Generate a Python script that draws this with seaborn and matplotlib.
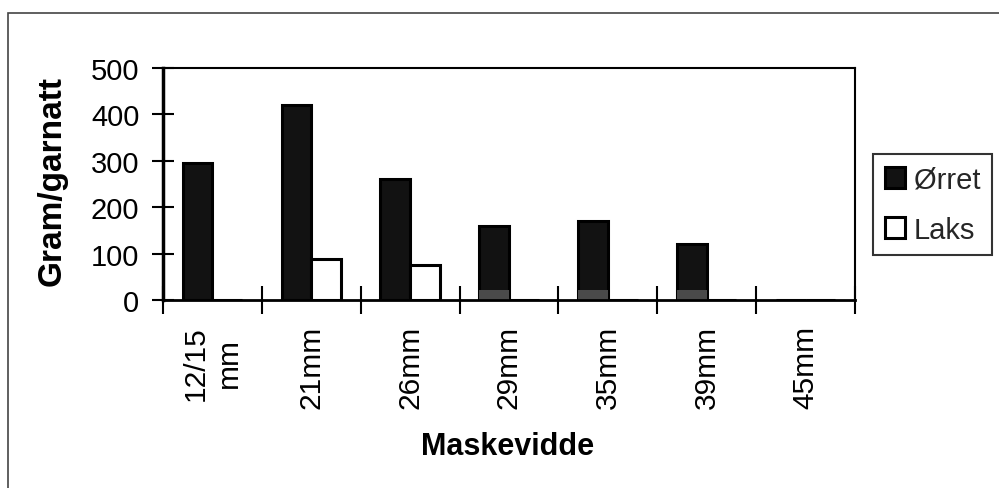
import numpy as np
import pandas as pd
import matplotlib
matplotlib.use("Agg")
import matplotlib.pyplot as plt
import seaborn as sns
from matplotlib.patches import Rectangle

# ---- data ----
maskevidde = ["12/15\nmm", "21mm", "26mm", "29mm", "35mm", "39mm", "45mm"]
series = ["Ørret", "Laks"]
orret = [295, 420, 260, 160, 170, 120, 0]
laks = [0, 88, 75, 0, 0, 0, 0]
orret_graa = [0, 0, 0, 22, 22, 22, 0]   # dark-grey base segment seen in the picture
y_ticks = [0, 100, 200, 300, 400, 500]

sns.set_theme(style="white")
plt.rcParams['font.family'] = ['Liberation Sans', 'DejaVu Sans']

n = len(maskevidde)
df = pd.DataFrame({
    "Maskevidde": maskevidde * 2,
    "Art": [series[0]] * n + [series[1]] * n,
    "Verdi": orret + laks,
})
df_g = pd.DataFrame({
    "Maskevidde": maskevidde * 2,
    "Art": [series[0]] * n + [series[1]] * n,
    "Verdi": orret_graa + [0] * n,
})

fig = plt.figure(figsize=(9.99, 4.89), dpi=100)
W, H = 999, 489
x0, x1, yt, yb = 163, 855, 69, 301
ax = fig.add_axes([x0 / W, 1 - yb / H, (x1 - x0) / W, (yb - yt) / H])

sns.barplot(data=df, x="Maskevidde", y="Verdi", hue="Art", hue_order=series,
            order=maskevidde, palette={"Ørret": "#121212", "Laks": "white"},
            width=0.6, ax=ax, saturation=1, edgecolor="black", linewidth=2.2,
            errorbar=None, legend=True)
sns.barplot(data=df_g, x="Maskevidde", y="Verdi", hue="Art", hue_order=series,
            order=maskevidde, palette={"Ørret": "#4a4a4a", "Laks": "#4a4a4a"},
            width=0.6, ax=ax, saturation=1, linewidth=0,
            errorbar=None, legend=False)

ax.set_xlim(-0.5, n - 0.5)
ax.set_ylim(0, 500)
ax.set_yticks(y_ticks)
ax.set_yticklabels([str(v) for v in y_ticks])

ax.set_xticks(np.arange(-0.5, n, 1.0))
ax.set_xticklabels([""] * (n + 1))
ax.set_xticks(np.arange(n), minor=True)
ax.set_xticklabels(maskevidde, minor=True)

ax.tick_params(axis='y', which='major', left=True, direction='inout', length=16,
               width=1.5, color='black', labelsize=21, pad=9, labelcolor='black')
ax.tick_params(axis='x', which='major', bottom=True, direction='inout', length=20,
               width=1.5, color='black')
ax.tick_params(axis='x', which='minor', bottom=True, length=0, labelsize=21.5,
               pad=18, labelrotation=90, labelcolor='black')
for t in ax.get_xticklabels(minor=True):
    t.set_multialignment('center')

for side, lw in [("left", 2.5), ("bottom", 2.0), ("top", 1.5), ("right", 1.5)]:
    ax.spines[side].set_visible(True)
    ax.spines[side].set_color("black")
    ax.spines[side].set_linewidth(lw)

ax.set_ylabel("Gram/garnatt", fontsize=24, fontweight='bold', color='black')
ax.yaxis.set_label_coords((68 - x0) / (x1 - x0), (yb - 181) / (yb - yt))
ax.set_xlabel("Maskevidde", fontsize=22, fontweight='bold', color='black')
ax.xaxis.set_label_coords((508 - x0) / (x1 - x0), (yb - 432) / (yb - yt))

handles, labels = ax.get_legend_handles_labels()
leg = ax.legend(handles[:2], labels[:2], loc="upper left",
                bbox_to_anchor=(873 / W, 1 - 155 / H), bbox_transform=fig.transFigure,
                borderaxespad=0, frameon=True, fancybox=False, edgecolor="black",
                fontsize=21, handlelength=0.7, handleheight=0.7, handletextpad=0.3,
                borderpad=0.4, labelspacing=0.75)
leg.get_frame().set_linewidth(1.5)

fig.patches.append(Rectangle((8 / W, -0.1), 1.2, (1 - 14 / H) + 0.1,
                             transform=fig.transFigure, fill=False,
                             edgecolor="#444444", linewidth=1.2))

fig.savefig("out.png", dpi=100)
